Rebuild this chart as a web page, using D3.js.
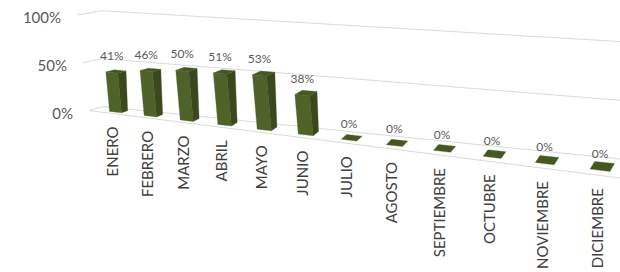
<!DOCTYPE html>
<html><head><meta charset="utf-8">
<script src="https://cdn.jsdelivr.net/npm/d3@7"></script>
<style>
body{margin:0;background:#fff}
svg{display:block}
text{font-family:Lato,"Open Sans",sans-serif}
</style>
</head><body>
<svg id="chart" width="620" height="272"></svg>
<script>
// ---------------- data ----------------
const months = ["ENERO","FEBRERO","MARZO","ABRIL","MAYO","JUNIO","JULIO","AGOSTO","SEPTIEMBRE","OCTUBRE","NOVIEMBRE","DICIEMBRE"];
const values = [0.41,0.46,0.50,0.51,0.53,0.38,0,0,0,0,0,0];
const yTicks = [0, 0.5, 1];

// ---------------- layout ----------------
const svg = d3.select("#chart");
const pct = d3.format(".0%");
const pad = 0.1723;                      // outer padding in category units
const xMax = months.length + 2*pad;
const band = d3.scaleBand().domain(months).range([0, xMax]).paddingInner(0).paddingOuter(pad);
const yScale = d3.scaleLinear().domain([0, 1]).range([0, 1]);
const barW = 0.35, barD = 0.45;

// perspective along the category axis (receding to the left)
const persp = X => (31.223*X + 96) / (1 - 0.020175*X);

function plane(X, Y, back) {
  const xm = persp(X);
  const dz = 7 - 2*X/xMax;
  const xb = back ? xm + dz : xm - dz;
  const y0 = back ? 106.5 + 0.1015*(xb-103) : 110.5 + 0.1271*(xb-89);
  const y1 = back ? 10.7 + 0.0595*(xb-103) : 15 + 0.0851*(xb-89);
  const lean = back ? -1 : -12;
  const t = yScale(Y);
  return [xb + lean*t, y0 + (y1-y0)*t];
}
function proj(X, Y, Z) {
  const f = plane(X, Y, 0), b = plane(X, Y, 1);
  return [f[0] + (b[0]-f[0])*Z, f[1] + (b[1]-f[1])*Z];
}

const grid = svg.append("g").attr("fill","none").attr("stroke","#d9d9d9").attr("stroke-width",1);
const line = d3.line();
const samples = d3.range(0, 41).map(k => k/40*xMax);
// back wall gridlines
yTicks.forEach(t => grid.append("path").attr("d", line(samples.map(X => proj(X, t, 1)))));
// side wall gridlines
yTicks.forEach(t => grid.append("path").attr("d", line([proj(0, t, 0), proj(0, t, 1)])));
// floor front edge
grid.append("path").attr("d", line(samples.map(X => proj(X, 0, 0))));

// y-axis labels
svg.append("g").selectAll("text").data(yTicks).join("text")
  .attr("x", t => proj(0, t, 0)[0] - 16)
  .attr("y", t => proj(0, t, 0)[1] + 2)
  .attr("text-anchor","end").attr("dominant-baseline","central")
  .attr("font-size", 15).attr("fill","#595959")
  .text(t => pct(t));

// ---------------- bars ----------------
function area(pts){ let s=0; for(let i=0;i<pts.length;i++){const a=pts[i],b=pts[(i+1)%pts.length]; s+=a[0]*b[1]-b[0]*a[1];} return s/2; }
function boxFaces(x0,x1,y0,y1,z0,z1){
  return [
    {k:"front", c:"#4f6228", v:[[x0,y0,z0],[x0,y1,z0],[x1,y1,z0],[x1,y0,z0]]},
    {k:"back",  c:"#4f6228", v:[[x0,y0,z1],[x1,y0,z1],[x1,y1,z1],[x0,y1,z1]]},
    {k:"right", c:"#3a481c", v:[[x1,y0,z0],[x1,y1,z0],[x1,y1,z1],[x1,y0,z1]]},
    {k:"left",  c:"#3a481c", v:[[x0,y0,z0],[x0,y0,z1],[x0,y1,z1],[x0,y1,z0]]},
    {k:"top",   c:"#45581f", v:[[x0,y1,z0],[x0,y1,z1],[x1,y1,z1],[x1,y1,z0]]},
    {k:"bottom",c:"#45581f", v:[[x0,y0,z0],[x1,y0,z0],[x1,y0,z1],[x0,y0,z1]]}
  ];
}
const refSign = Math.sign(area(boxFaces(1,1.4,0,1,0.3,0.7)[0].v.map(p=>proj(...p))));

const bars = svg.append("g");
months.forEach((m, i) => {
  const Xc = band(m) + band.bandwidth()/2;
  const faces = boxFaces(Xc-barW/2, Xc+barW/2, 0, values[i], 0.5-barD/2, 0.5+barD/2);
  faces.forEach(f => {
    const pts = f.v.map(p => proj(...p));
    const a = area(pts);
    if (Math.abs(a) < 0.05 || Math.sign(a) !== refSign) return;
    bars.append("path").attr("d", "M" + pts.map(p => p.join(",")).join("L") + "Z")
      .attr("fill", f.c).attr("stroke", f.c).attr("stroke-width", 0.3);
  });
});

// data labels
svg.append("g").selectAll("text").data(months).join("text")
  .attr("x", (m,i) => proj(band(m)+band.bandwidth()/2, values[i], 0.5-barD/2)[0])
  .attr("y", (m,i) => proj(band(m)+band.bandwidth()/2, values[i], 0.5-barD/2)[1] - 17)
  .attr("text-anchor","middle").attr("dominant-baseline","central")
  .attr("font-size", 12).attr("fill","#595959")
  .text((m,i) => pct(values[i]));

// category labels
svg.append("g").selectAll("text").data(months).join("text")
  .attr("transform", m => { const p = proj(band(m)+band.bandwidth()/2, 0, 0); return `translate(${p[0]},${p[1]+13}) rotate(-90)`; })
  .attr("text-anchor","end").attr("dominant-baseline","central")
  .attr("font-size", 15).attr("fill","#404040")
  .text(m => m);
</script>
</body></html>
